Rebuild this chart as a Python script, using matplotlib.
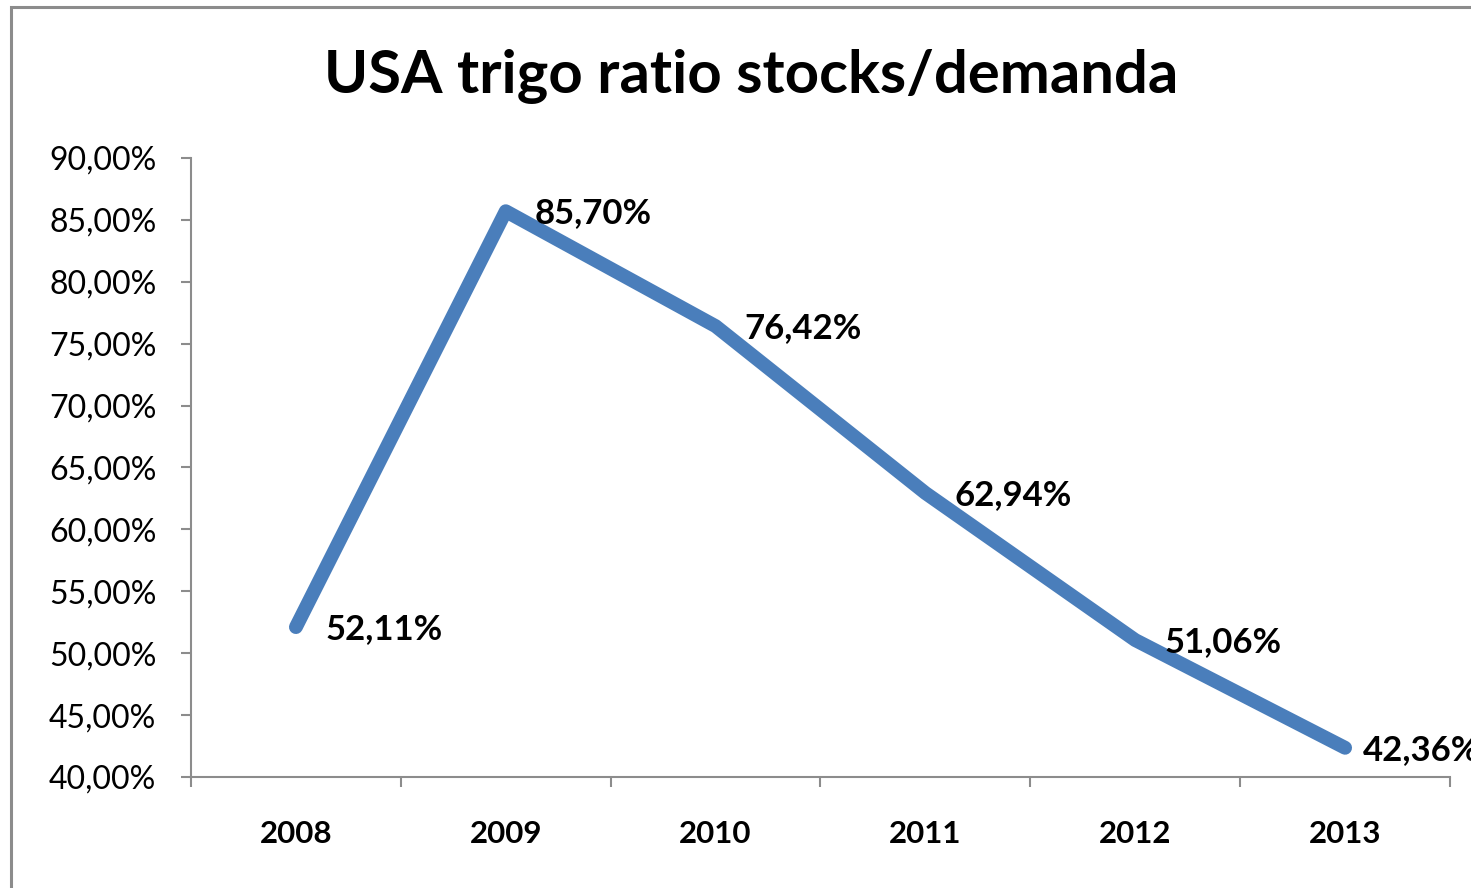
import matplotlib
matplotlib.use("Agg")
import matplotlib.pyplot as plt
from matplotlib.patches import Rectangle
from matplotlib.ticker import FixedLocator, FuncFormatter

years = ["2008", "2009", "2010", "2011", "2012", "2013"]
ratios = [52.11, 85.70, 76.42, 62.94, 51.06, 42.36]
yticks = [40, 45, 50, 55, 60, 65, 70, 75, 80, 85, 90]
title = "USA trigo ratio stocks/demanda"

plt.rcParams['font.family'] = ['Lato', 'DejaVu Sans']

W, H = 1471, 888
fig = plt.figure(figsize=(W / 100, H / 100), dpi=100)
fig.patches.append(Rectangle((11 / W, -0.1), 1.2, 1 - 7 / H + 0.1, transform=fig.transFigure,
                             fill=False, edgecolor='#8c8c8c', linewidth=2.2))

ax = fig.add_axes([191 / W, 1 - 777 / H, (1450 - 191) / W, (777 - 158) / H])
x = list(range(len(years)))
color = '#4a7ebb'
ax.plot(x, ratios, color=color, linewidth=10, solid_capstyle='round', solid_joinstyle='round',
        clip_on=False, zorder=3)

def fmt(v):
    return f"{v:.2f}".replace('.', ',') + "%"

for i, (xi, v) in enumerate(zip(x, ratios)):
    dx = 13 if i == len(x) - 1 else 21
    ax.annotate(fmt(v), (xi, v), xytext=(dx, -1.5), textcoords='offset points',
                ha='left', va='center', fontsize=25, fontweight='bold', color='black',
                annotation_clip=False, zorder=4)

ax.set_xlim(-0.5, len(years) - 0.5)
ax.set_ylim(40, 90)
ax.set_yticks(yticks)
ax.yaxis.set_major_formatter(FuncFormatter(lambda v, p: fmt(v)))
ax.xaxis.set_major_locator(FixedLocator([i - 0.5 for i in range(len(years) + 1)]))
ax.xaxis.set_major_formatter(FuncFormatter(lambda v, p: ""))
ax.xaxis.set_minor_locator(FixedLocator(x))
ax.set_xticklabels(years, minor=True, fontsize=22.5, fontweight='bold')
ax.tick_params(axis='x', which='minor', length=0, pad=31)
ax.tick_params(axis='x', which='major', length=7, width=1.5, color='#8c8c8c', direction='out')
ax.tick_params(axis='y', length=7, width=1.5, color='#8c8c8c', direction='out', labelsize=23, pad=18)
for s in ['top', 'right']:
    ax.spines[s].set_visible(False)
for s in ['left', 'bottom']:
    ax.spines[s].set_color('#8c8c8c')
    ax.spines[s].set_linewidth(1.5)

fig.text(751 / W, 1 - 76 / H, title, ha='center', va='center', fontsize=43, fontweight='bold')

fig.savefig("out.png", dpi=100)
